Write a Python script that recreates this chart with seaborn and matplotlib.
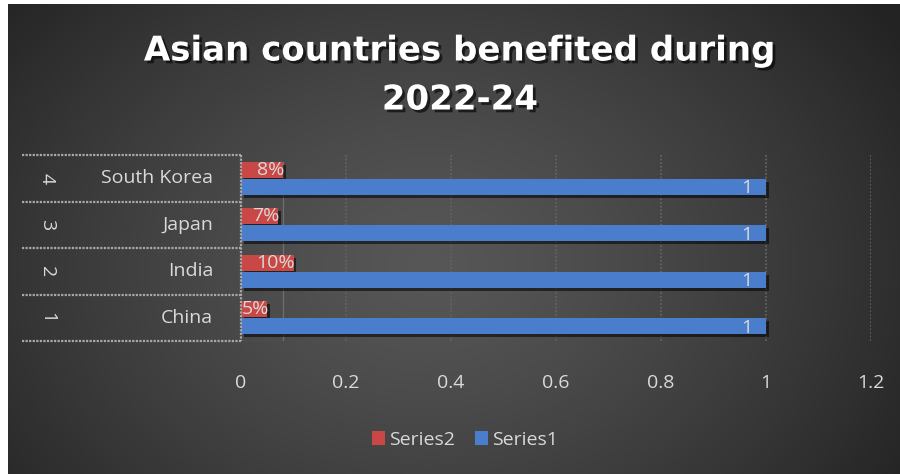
import numpy as np
import pandas as pd
import matplotlib
matplotlib.use("Agg")
import matplotlib.pyplot as plt
import matplotlib.patheffects as pe
from matplotlib.patches import Patch
import seaborn as sns

# ---- data ----
countries = ["China", "India", "Japan", "South Korea"]
numbers = ["1", "2", "3", "4"]
series1 = [1, 1, 1, 1]
series2 = [0.05, 0.10, 0.07, 0.08]
series2_labels = ["5%", "10%", "7%", "8%"]
series1_labels = ["1", "1", "1", "1"]
xticks = [0, 0.2, 0.4, 0.6, 0.8, 1.0, 1.2]
xtick_labels = ["0", "0.2", "0.4", "0.6", "0.8", "1", "1.2"]
title_lines = ["Asian countries benefited during", "2022-24"]

plt.rcParams["font.family"] = ["Open Sans", "DejaVu Sans"]

RED = "#c94744"
BLUE = "#4a7dcb"
TXT = "#d9d9d9"
FS = 14

W, H = 900, 474
fig = plt.figure(figsize=(W / 100, H / 100), dpi=100, facecolor="white")

# background radial gradient
bg = fig.add_axes([8 / W, 0, (W - 8) / W, (H - 4) / H])
bg.axis("off")
yy, xx = np.mgrid[0:470, 0:892]
cx, cy = 420, 260
r = np.sqrt(((xx - cx) / 560.0) ** 2 + ((yy - cy) / 420.0) ** 2)
r = np.clip(r, 0, 1)
val = 0.34 - (0.34 - 0.14) * r ** 1.3
img = np.dstack([val, val, val])
bg.imshow(img, aspect="auto", interpolation="bilinear")

# main axes
ax = fig.add_axes([241 / W, 1 - 341 / H, 630 / W, 186 / H])
ax.set_facecolor("none")

order = countries[::-1]
df = pd.DataFrame({
    "country": countries * 2,
    "value": series2 + series1,
    "series": ["Series2"] * 4 + ["Series1"] * 4,
})
sns.barplot(data=df, y="country", x="value", hue="series",
            hue_order=["Series2", "Series1"], order=order,
            palette={"Series2": RED, "Series1": BLUE}, orient="h",
            width=0.74, saturation=1, legend=False, ax=ax, zorder=3)

shadow = [pe.SimplePatchShadow(offset=(2, -2), shadow_rgbFace="black", alpha=0.55), pe.Normal()]
for cont in ax.containers:
    for p in cont.patches:
        h = p.get_height()
        p.set_height(h * 0.92)
        p.set_y(p.get_y() + h * 0.04)
        p.set_linewidth(0)
        p.set_path_effects(shadow)

lab2 = dict(zip(countries, series2_labels))
lab1 = dict(zip(countries, series1_labels))
for p, c in zip(ax.containers[0].patches, order):
    ax.annotate(lab2[c], (p.get_width(), p.get_y() + p.get_height() / 2),
                xytext=(1, 0), textcoords="offset points", ha="right", va="center",
                color=TXT, fontsize=FS, zorder=5)
for p, c in zip(ax.containers[1].patches, order):
    ax.annotate(lab1[c], (p.get_width(), p.get_y() + p.get_height() / 2),
                xytext=(-10, -1), textcoords="offset points", ha="right", va="center",
                color=TXT, fontsize=FS, zorder=5)

ax.set_xlim(0, 1.2)
ax.set_ylim(3.5, -0.5)
ax.set_xticks(xticks)
ax.set_xticklabels(xtick_labels, color=TXT, fontsize=FS)
ax.tick_params(axis="x", length=0, pad=24)
ax.set_yticks([])
ax.set_xlabel("")
ax.set_ylabel("")
for s in ax.spines.values():
    s.set_visible(False)

# gridlines
for x in xticks[1:]:
    ax.axvline(x, color="#626262", ls=(0, (1, 1)), lw=1.3, zorder=1)

# thin artifact line near 0.08
ax.plot([0.08, 0.08], [-0.35, 3.5], color="#6e6e6e", lw=0.9, zorder=2)
ax.plot([0, 0.08], [3.5, 3.5], color="#6e6e6e", lw=0.9, zorder=2)

# multi-level category box
ytr = ax.get_yaxis_transform()
x_left = (22 - 241) / 630
for b in [-0.5, 0.5, 1.5, 2.5, 3.5]:
    ax.plot([x_left, 0], [b, b], transform=ytr, color="#a8a8a8",
            ls=(0, (1, 0.6)), lw=1.6, clip_on=False, zorder=4)
ax.plot([0, 0], [-0.5, 3.5], transform=ytr, color="#a8a8a8",
        ls=(0, (1, 0.6)), lw=1.6, clip_on=False, zorder=4)
for i, c in enumerate(order):
    num = numbers[countries.index(c)]
    ax.text((47 - 241) / 630, i, num, transform=ytr, rotation=270,
            ha="center", va="center", color=TXT, fontsize=FS)
    ax.text((213 - 241) / 630, i, c, transform=ytr, ha="right",
            va="center", color=TXT, fontsize=FS)

# title
tshadow = [pe.withSimplePatchShadow(offset=(2, -2), shadow_rgbFace="black", alpha=0.6)]
for k, (line, ypx) in enumerate(zip(title_lines, [51, 100])):
    fig.text(460 / W, 1 - ypx / H, line, ha="center", va="center",
             color="white", fontsize=24.5, fontweight="bold", family="DejaVu Sans",
             path_effects=tshadow)

# legend
handles = [Patch(facecolor=RED, edgecolor="none", label="Series2"),
           Patch(facecolor=BLUE, edgecolor="none", label="Series1")]
fig.legend(handles=handles, loc="center", bbox_to_anchor=(465 / W, 1 - 440 / H),
           ncol=2, frameon=False, fontsize=FS, labelcolor=TXT,
           handlelength=0.7, handleheight=0.7, handletextpad=0.2, columnspacing=1.0)

fig.savefig("out.png", dpi=100, facecolor=fig.get_facecolor())
